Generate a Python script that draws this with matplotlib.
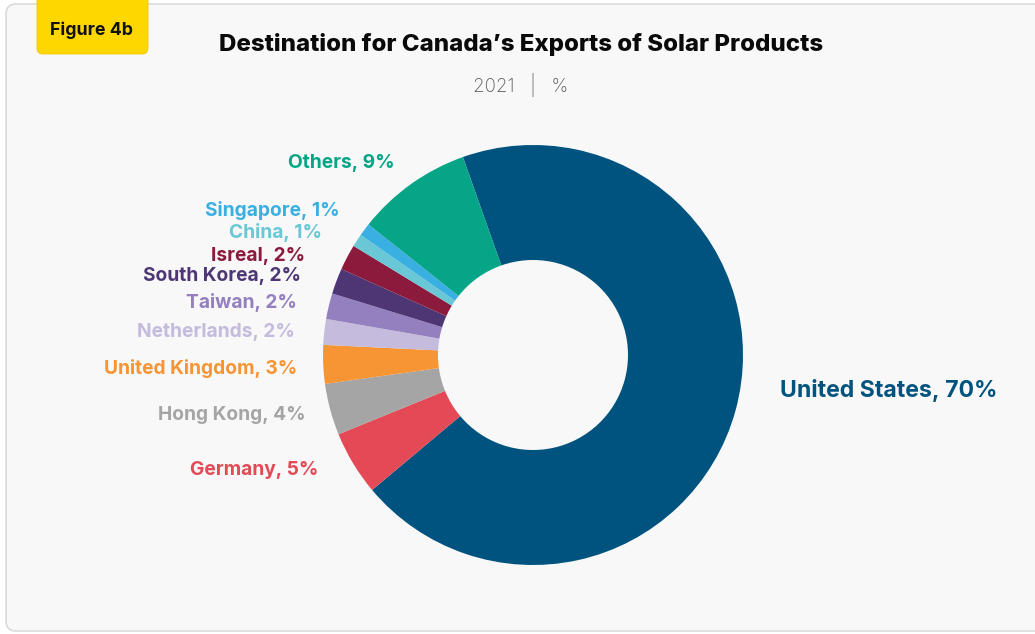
import matplotlib
matplotlib.use("Agg")
import matplotlib.pyplot as plt
from matplotlib.patches import FancyBboxPatch

countries = ["United States", "Germany", "Hong Kong", "United Kingdom", "Netherlands",
             "Taiwan", "South Korea", "Isreal", "China", "Singapore", "Others"]
shares = [70, 5, 4, 3, 2, 2, 2, 2, 1, 1, 9]
colors = ["#00537f", "#e34a56", "#a4a5a4", "#f79535", "#c4bbdd",
          "#9480be", "#4e3675", "#8b1a3c", "#6ac8d6", "#3ab0e2", "#06a587"]

W, H = 1035, 634
fig = plt.figure(figsize=(W / 100, H / 100), dpi=100)
fig.patch.set_facecolor("white")
ax = fig.add_axes([0, 0, 1, 1])

def Y(py):
    return H - py

label_font = ["Inter", "DejaVu Sans"]

# panel
panel = FancyBboxPatch((6, Y(631)), 1040, 627, boxstyle="round,pad=0,rounding_size=10",
                       facecolor="#f8f8f8", edgecolor="#dadada", linewidth=1.2, zorder=0)
ax.add_patch(panel)

# figure tag
tag = FancyBboxPatch((37, Y(54)), 111, 64, boxstyle="round,pad=0,rounding_size=6",
                     facecolor="#ffd700", edgecolor="#f0c800", linewidth=0.6, zorder=2)
ax.add_patch(tag)
ax.text(92, Y(30), "Figure 4b", ha="center", va="center", fontsize=12.8,
        fontweight="bold", family=label_font, color="#111111", zorder=3)

# titles
ax.text(521, Y(45), "Destination for Canada\u2019s Exports of Solar Products", ha="center",
        va="center", fontsize=17.3, fontweight="heavy", family=label_font, color="#0a0a0a")
ax.text(521, Y(85), "2021   |   %", ha="center", va="center", fontsize=13.5,
        family=label_font, fontweight="light", color="#5a5a5a")

# donut
cx, cy, r_out, r_in = 533, Y(355), 210, 95
ax.pie(shares, colors=colors, startangle=109.5, counterclock=False,
       center=(cx, cy), radius=r_out, frame=True,
       wedgeprops=dict(width=r_out - r_in, edgecolor="none", linewidth=0))
ax.set_xlim(0, W)
ax.set_ylim(0, H)
ax.set_aspect("equal")
ax.axis("off")

# labels
label_pos = {
    "United States": (780, 391, "left"),
    "Germany": (318, 470, "right"),
    "Hong Kong": (306, 415, "right"),
    "United Kingdom": (297, 368, "right"),
    "Netherlands": (295, 332, "right"),
    "Taiwan": (297, 303, "right"),
    "South Korea": (301, 276, "right"),
    "Isreal": (305, 256, "right"),
    "China": (322, 233, "right"),
    "Singapore": (340, 211, "right"),
    "Others": (395, 163, "right"),
}
for name, val, col in zip(countries, shares, colors):
    x, y, ha = label_pos[name]
    fs = 16.6 if name == "United States" else 13.8
    ax.text(x, Y(y), f"{name}, {val}%", ha=ha, va="center", fontsize=fs,
            fontweight="bold", family=label_font, color=col)

fig.savefig("out.png", dpi=100, facecolor="white")
